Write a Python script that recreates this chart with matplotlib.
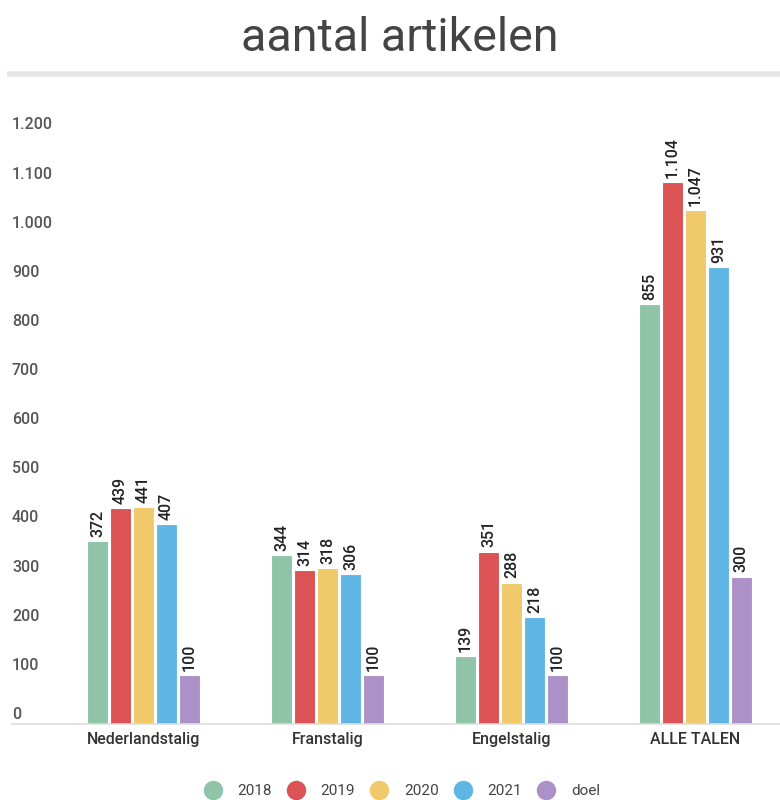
import matplotlib.pyplot as plt
from matplotlib.lines import Line2D
from matplotlib.transforms import blended_transform_factory, offset_copy

categories = ["Nederlandstalig", "Franstalig", "Engelstalig", "ALLE TALEN"]
series_names = ["2018", "2019", "2020", "2021", "doel"]
values = {
    "2018": [372, 344, 139, 855],
    "2019": [439, 314, 351, 1104],
    "2020": [441, 318, 288, 1047],
    "2021": [407, 306, 218, 931],
    "doel": [100, 100, 100, 300],
}
colors = ["#8fc4a9", "#dc5356", "#f0c96a", "#5fb6e4", "#ac90c8"]
y_ticks = [0, 100, 200, 300, 400, 500, 600, 700, 800, 900, 1000, 1100, 1200]


def fmt(v):
    # dutch thousands separator
    return f"{v:,}".replace(",", ".")


plt.rcParams['font.family'] = ['Roboto', 'DejaVu Sans']

fig = plt.figure(figsize=(7.8, 8), dpi=100)
ax = fig.add_axes([12 / 780, 1 - 724 / 800, 1 - 12 / 780, (724 - 110) / 800])

pitch = 0.125
width = 0.115
for i, name in enumerate(series_names):
    xs = [c + (i - 2) * pitch for c in range(len(categories))]
    ax.bar(xs, values[name], width=width, color=colors[i],
           edgecolor="white", linewidth=0.8, zorder=2)
    for x, v in zip(xs, values[name]):
        ax.annotate(fmt(v), (x, v), xytext=(0, 3), textcoords="offset points",
                    rotation=90, ha="center", va="bottom", fontsize=11.5,
                    fontweight="medium", color="#222222")

ax.set_xlim(-0.715, 3.46)
ax.set_ylim(0, 1250)

for s in ["top", "right", "left"]:
    ax.spines[s].set_visible(False)
ax.spines["bottom"].set_color("#dddddd")
ax.spines["bottom"].set_linewidth(1.2)

ax.set_yticks([])
ax.set_xticks(range(len(categories)))
ax.set_xticklabels(categories, fontsize=11.5, fontweight="medium", color="#333333")
ax.tick_params(axis="x", length=0, pad=6)

# y labels sit a bit above their values, at the left edge
trans = blended_transform_factory(ax.transAxes, ax.transData)
trans = offset_copy(trans, fig=fig, x=0, y=1.5, units="points")
for t in y_ticks:
    ax.text(0, t, fmt(t), transform=trans, ha="left", va="bottom",
            fontsize=11.5, fontweight="medium", color="#555555")

fig.text(0.513, 1 - 38 / 800, "aantal artikelen", ha="center", va="center",
         fontsize=33.5, color="#444444")
fig.add_artist(Line2D([10 / 780, 1], [1 - 74 / 800, 1 - 74 / 800],
                      transform=fig.transFigure, color="#e6e6e6", linewidth=4))

handles = [Line2D([], [], marker="o", linestyle="", markersize=13,
                  markerfacecolor=c, markeredgecolor=c) for c in colors]
fig.legend(handles, series_names, loc="center", bbox_to_anchor=(0.511, 1 - 791 / 800),
           ncol=5, frameon=False, fontsize=11, handletextpad=0.6, columnspacing=0.6,
           labelcolor="#444444")

fig.savefig("out.png", dpi=100)
